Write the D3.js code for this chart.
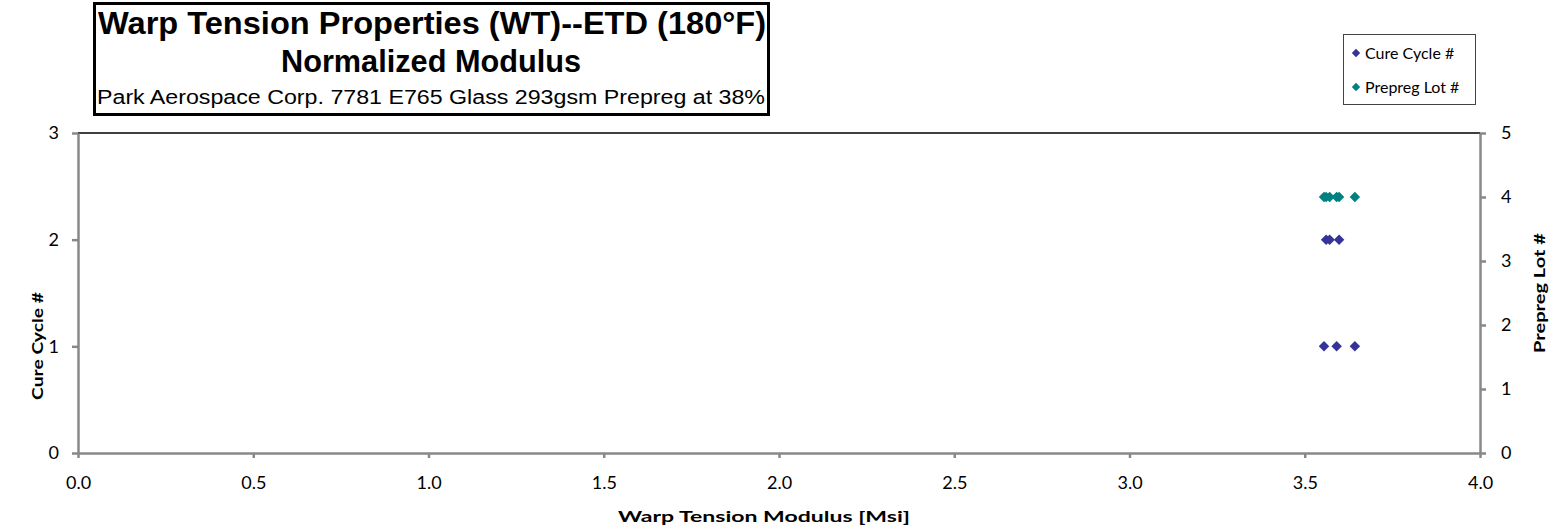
<!DOCTYPE html>
<html>
<head>
<meta charset="utf-8">
<script src="https://cdn.jsdelivr.net/npm/d3@7"></script>
<style>
  html, body { margin: 0; padding: 0; background: #fff; }
  svg { display: block; }
</style>
</head>
<body>
<svg id="chart" width="1554" height="532"></svg>
<script>
// Warp tension modulus (Msi) per specimen, grouped by cure cycle and prepreg lot
const cureCycleModulus = [3.555, 3.591, 3.643, 3.561, 3.571, 3.598];
const cureCycleNumber  = [1, 1, 1, 2, 2, 2];
const prepregModulus   = [3.555, 3.561, 3.571, 3.591, 3.598, 3.643];
const prepregLotNumber = [4, 4, 4, 4, 4, 4];

const xTicks = [0, 0.5, 1, 1.5, 2, 2.5, 3, 3.5, 4];
const yLeftTicks = [0, 1, 2, 3];
const yRightTicks = [0, 1, 2, 3, 4, 5];

const titleLines = ["Warp Tension Properties (WT)--ETD (180°F)", "Normalized Modulus"];
const subtitle = "Park Aerospace Corp. 7781 E765 Glass 293gsm Prepreg at 38%";
const seriesNames = ["Cure Cycle #", "Prepreg Lot #"];
const seriesColors = ["#333399", "#008080"];

const svg = d3.select("#chart");
const plot = { left: 78, right: 1480, top: 133, bottom: 453 };
const tickFont = "Lato, 'Open Sans', sans-serif";
const titleFont = "'Liberation Sans', Arial, sans-serif";

const x = d3.scaleLinear().domain([0, 4]).range([plot.left, plot.right]);
const yL = d3.scaleLinear().domain([0, 3]).range([plot.bottom, plot.top]);
const yR = d3.scaleLinear().domain([0, 5]).range([plot.bottom, plot.top]);

// top border of the plot area
svg.append("line")
  .attr("x1", plot.left).attr("x2", plot.right)
  .attr("y1", plot.top).attr("y2", plot.top)
  .attr("stroke", "#000").attr("stroke-width", 1.5);

function styleAxis(g) {
  g.selectAll("path.domain").attr("stroke", "#888").attr("stroke-width", 2.5);
  g.selectAll(".tick line").attr("stroke", "#888").attr("stroke-width", 2.5);
  g.selectAll(".tick text").attr("fill", "#000")
    .style("font-family", tickFont).style("font-size", "18px");
}

const gx = svg.append("g").attr("transform", `translate(0,${plot.bottom})`)
  .call(d3.axisBottom(x).tickValues(xTicks).tickFormat(d3.format(".1f"))
    .tickSizeInner(5).tickSizeOuter(0).tickPadding(18));
styleAxis(gx);

const gl = svg.append("g").attr("transform", `translate(${plot.left},0)`)
  .call(d3.axisLeft(yL).tickValues(yLeftTicks).tickFormat(d3.format("d"))
    .tickSizeInner(6).tickSizeOuter(0).tickPadding(13));
styleAxis(gl);

const gr = svg.append("g").attr("transform", `translate(${plot.right},0)`)
  .call(d3.axisRight(yR).tickValues(yRightTicks).tickFormat(d3.format("d"))
    .tickSizeInner(6).tickSizeOuter(0).tickPadding(15));
styleAxis(gr);

// axis titles
function axisTitle(sel, len) {
  return sel.style("font-family", tickFont).style("font-weight", "bold")
    .style("font-size", "16px")
    .attr("text-anchor", "middle")
    .attr("textLength", len).attr("lengthAdjust", "spacingAndGlyphs");
}

axisTitle(svg.append("text").attr("x", 764).attr("y", 522), 292)
  .text("Warp Tension Modulus [Msi]");

axisTitle(svg.append("text")
  .attr("transform", `translate(43,346) rotate(-90)`), 108)
  .text("Cure Cycle #");

axisTitle(svg.append("text")
  .attr("transform", `translate(1545,293) rotate(-90)`), 120)
  .text("Prepreg Lot #");

// diamond markers
const diamond = d3.symbol().type(d3.symbolDiamond2).size(70);

svg.append("g").selectAll("path")
  .data(cureCycleModulus.map((v, i) => [v, cureCycleNumber[i]]))
  .join("path")
  .attr("d", diamond)
  .attr("transform", d => `translate(${x(d[0])},${yL(d[1])})`)
  .attr("fill", seriesColors[0]);

svg.append("g").selectAll("path")
  .data(prepregModulus.map((v, i) => [v, prepregLotNumber[i]]))
  .join("path")
  .attr("d", diamond)
  .attr("transform", d => `translate(${x(d[0])},${yR(d[1])})`)
  .attr("fill", seriesColors[1]);

// title box
const tb = svg.append("g");
tb.append("rect")
  .attr("x", 94.5).attr("y", 3.5).attr("width", 674).attr("height", 111)
  .attr("fill", "#fff").attr("stroke", "#000").attr("stroke-width", 3);
tb.append("text").attr("x", 432).attr("y", 34).attr("text-anchor", "middle")
  .style("font-family", titleFont).style("font-weight", "bold").style("font-size", "32px")
  .attr("textLength", 668).attr("lengthAdjust", "spacingAndGlyphs")
  .text(titleLines[0]);
tb.append("text").attr("x", 431).attr("y", 72).attr("text-anchor", "middle")
  .style("font-family", titleFont).style("font-weight", "bold").style("font-size", "32px")
  .attr("textLength", 300).attr("lengthAdjust", "spacingAndGlyphs")
  .text(titleLines[1]);
tb.append("text").attr("x", 431).attr("y", 104).attr("text-anchor", "middle")
  .style("font-family", titleFont).style("font-size", "20px")
  .attr("textLength", 668).attr("lengthAdjust", "spacingAndGlyphs")
  .text(subtitle);

// legend
const lg = svg.append("g");
lg.append("rect")
  .attr("x", 1343.5).attr("y", 34.5).attr("width", 132).attr("height", 70)
  .attr("fill", "#fff").attr("stroke", "#444").attr("stroke-width", 1);
seriesNames.forEach((name, i) => {
  const cy = 53 + i * 34;
  lg.append("path")
    .attr("d", d3.symbol().type(d3.symbolDiamond2).size(45))
    .attr("transform", `translate(1356,${cy})`)
    .attr("fill", seriesColors[i]);
  lg.append("text").attr("x", 1365).attr("y", cy + 6)
    .style("font-family", tickFont).style("font-size", "16px")
    .text(name);
});
</script>
</body>
</html>
